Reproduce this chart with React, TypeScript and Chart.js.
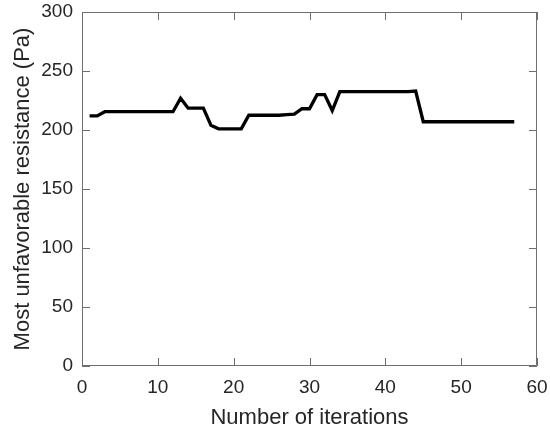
import React, { useEffect, useRef } from "react";
import { Chart, registerables } from "chart.js";

Chart.register(...registerables);

const iterations: number[] = Array.from({ length: 57 }, (_, i) => i + 1);
const resistance: number[] = [
  212, 212, 215.5, 215.5, 215.5, 215.5, 215.5, 215.5, 215.5, 215.5,
  215.5, 215.5, 227, 218.5, 218.5, 218.5, 204, 201, 201, 201,
  201, 212.5, 212.5, 212.5, 212.5, 212.5, 213, 213.5, 218, 218,
  230, 230, 216.5, 232.5, 232.5, 232.5, 232.5, 232.5, 232.5, 232.5,
  232.5, 232.5, 232.5, 233, 207, 207, 207, 207, 207, 207,
  207, 207, 207, 207, 207, 207, 207,
];
const xTicks: number[] = [0, 10, 20, 30, 40, 50, 60];
const yTicks: number[] = [0, 50, 100, 150, 200, 250, 300];
const xTitle = "Number of iterations";
const yTitle = "Most unfavorable resistance (Pa)";

const FONT = "'Liberation Sans', Arial, Helvetica, sans-serif";
const TEXT = "#262626";
const AXIS = "#6e6e6e";

const boxPlugin = {
  id: "matlabBox",
  afterDraw(chart: any) {
    const { ctx, chartArea } = chart;
    const { left, right, top, bottom } = chartArea;
    const xs = chart.scales.x;
    const ys = chart.scales.y;
    ctx.save();
    ctx.strokeStyle = AXIS;
    ctx.lineWidth = 1;
    ctx.beginPath();
    ctx.rect(left + 0.5, top + 0.5, right - left - 1, bottom - top - 1);
    ctx.stroke();
    const tl = 8;
    ctx.beginPath();
    for (const v of xTicks) {
      const px = Math.round(xs.getPixelForValue(v)) + 0.5;
      ctx.moveTo(px, bottom);
      ctx.lineTo(px, bottom - tl);
      ctx.moveTo(px, top);
      ctx.lineTo(px, top + tl);
    }
    for (const v of yTicks) {
      const py = Math.round(ys.getPixelForValue(v)) + 0.5;
      ctx.moveTo(left, py);
      ctx.lineTo(left + tl, py);
      ctx.moveTo(right, py);
      ctx.lineTo(right - tl, py);
    }
    ctx.stroke();
    ctx.restore();
  },
};

export default function App() {
  const ref = useRef<HTMLCanvasElement | null>(null);
  useEffect(() => {
    document.body.style.margin = "0";
    const canvas = ref.current;
    if (!canvas) return;
    const chart = new Chart(canvas, {
      type: "line",
      data: {
        datasets: [
          {
            data: iterations.map((x, i) => ({ x, y: resistance[i] })),
            borderColor: "#000000",
            borderWidth: 3.3,
            pointRadius: 0,
            tension: 0,
            fill: false,
          },
        ],
      },
      options: {
        animation: false,
        responsive: false,
        devicePixelRatio: 1,
        layout: { padding: { top: 12, right: 13, left: 0, bottom: 0 } },
        plugins: { legend: { display: false }, tooltip: { enabled: false } },
        scales: {
          x: {
            type: "linear",
            min: 0,
            max: 60,
            afterBuildTicks: (s: any) => {
              s.ticks = xTicks.map((v) => ({ value: v }));
            },
            afterFit: (s: any) => {
              s.height = 65;
              s.paddingLeft = 0;
              s.paddingRight = 0;
            },
            grid: { display: false, drawTicks: false },
            border: { display: false },
            ticks: {
              padding: 10,
              color: TEXT,
              font: { family: FONT, size: 19 },
              maxRotation: 0,
            },
            title: {
              display: true,
              text: xTitle,
              color: TEXT,
              font: { family: FONT, size: 22 },
              padding: { top: 0, bottom: 0 },
            },
          },
          y: {
            type: "linear",
            min: 0,
            max: 300,
            afterBuildTicks: (s: any) => {
              s.ticks = yTicks.map((v) => ({ value: v }));
            },
            afterFit: (s: any) => {
              s.width = 82;
              s.paddingTop = 0;
              s.paddingBottom = 0;
            },
            grid: { display: false, drawTicks: false },
            border: { display: false },
            ticks: {
              padding: 9,
              color: TEXT,
              font: { family: FONT, size: 19 },
            },
            title: {
              display: true,
              text: yTitle,
              color: TEXT,
              font: { family: FONT, size: 22 },
              padding: { top: 10, bottom: 0 },
            },
          },
        },
      },
      plugins: [boxPlugin],
    });
    return () => chart.destroy();
  }, []);
  return (
    <div style={{ width: 550, height: 431, background: "#fff" }}>
      <canvas ref={ref} width={550} height={431} style={{ display: "block" }} />
    </div>
  );
}
